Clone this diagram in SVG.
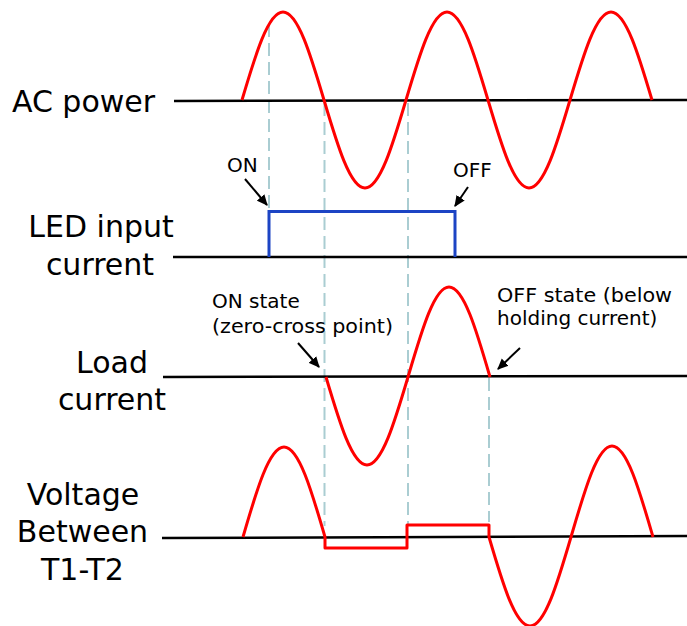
<svg xmlns="http://www.w3.org/2000/svg" width="687" height="626" viewBox="0 0 687 626">
  <style>
    .axis { stroke: #000; stroke-width: 2.5; fill: none; }
    .wave { fill: none; stroke: #ff0000; stroke-width: 3; stroke-linejoin: round; }
    .led { fill: none; stroke: #1c44c4; stroke-width: 3; }
    .guide { stroke: #aacdd2; stroke-width: 2; stroke-dasharray: 13 6; fill: none; }
    .arrow { stroke: #000; stroke-width: 2; fill: none; marker-end: url(#ah); }
    text { font-family: "DejaVu Sans", Verdana, sans-serif; fill: #000; }
    .lbl { font-size: 30px; text-anchor: middle; }
    .small { font-size: 20px; }
  </style>
  <defs>
    <marker id="ah" viewBox="0 0 10 10" refX="9" refY="5" markerWidth="5.5" markerHeight="5.5" orient="auto" markerUnits="strokeWidth">
      <path d="M0,0.5 L10,5 L0,9.5 Z" fill="#000"/>
    </marker>
  </defs>

  <g id="connectors">
    <line class="guide" x1="269" y1="24" x2="269" y2="211"/>
    <line class="guide" x1="324.5" y1="103" x2="324.5" y2="526"/>
    <line class="guide" x1="408" y1="103" x2="408" y2="524"/>
    <line class="guide" x1="489" y1="378" x2="489" y2="522"/>
    <line class="arrow" x1="245" y1="179" x2="267" y2="205"/>
    <line class="arrow" x1="468" y1="187" x2="455" y2="206"/>
    <line class="arrow" x1="298" y1="343" x2="319" y2="367"/>
    <line class="arrow" x1="520" y1="348" x2="498" y2="369"/>
  </g>

  <g id="ac-power">
    <text class="lbl" x="83.5" y="112">AC power</text>
    <line class="axis" x1="174" y1="101" x2="687" y2="100"/>
    <path class="wave" d="M242,100 c13.37,-45.08 26.16,-88 41,-88 s27.63,42.92 41,88 s26.16,88 41,88 s27.63,-42.92 41,-88 s26.16,-88 41,-88 s27.63,42.92 41,88 s26.16,88 41,88 s27.63,-42.92 41,-88 s26.16,-88 41,-88 s27.63,42.92 41,88"/>
  </g>

  <g id="led-input-current">
    <text class="lbl" x="101" y="237">LED input</text>
    <text class="lbl" x="100" y="275">current</text>
    <line class="axis" x1="173" y1="257" x2="687" y2="257"/>
    <polyline class="led" points="269,257 269,211.5 455,211.5 455,257"/>
  </g>

  <g id="load-current">
    <text class="lbl" x="112" y="373">Load</text>
    <text class="lbl" x="112" y="410">current</text>
    <line class="axis" x1="163" y1="377" x2="687" y2="376"/>
    <path class="wave" d="M326,377 c13.37,45.08 26.16,88 41,88 s27.63,-42.92 41,-88 s26.16,-90 41,-90 s27.63,44 41,90"/>
  </g>

  <g id="voltage-t1-t2">
    <text class="lbl" x="83" y="505">Voltage</text>
    <text class="lbl" x="82.5" y="542">Between</text>
    <text class="lbl" x="82.5" y="580">T1-T2</text>
    <line class="axis" x1="162" y1="538" x2="687" y2="536"/>
    <path class="wave" d="M243,537 c13.37,-46.1 26.16,-90 41,-90 s27.63,43.9 41,90 V548 H407 V525 H489 V537 c13.37,45.6 26.16,89 41,89 s27.63,-43.4 41,-89 s26.16,-91 41,-91 s27.63,44.9 41,91"/>
  </g>

  <g id="annotations">
    <text class="small" x="227" y="172">ON</text>
    <text class="small" x="453" y="177">OFF</text>
    <text class="small" x="212" y="308">ON state</text>
    <text class="small" x="212" y="333" textLength="181" lengthAdjust="spacingAndGlyphs">(zero-cross point)</text>
    <text class="small" x="497" y="302" textLength="175" lengthAdjust="spacingAndGlyphs">OFF state (below</text>
    <text class="small" x="497" y="325">holding current)</text>
  </g>
</svg>
